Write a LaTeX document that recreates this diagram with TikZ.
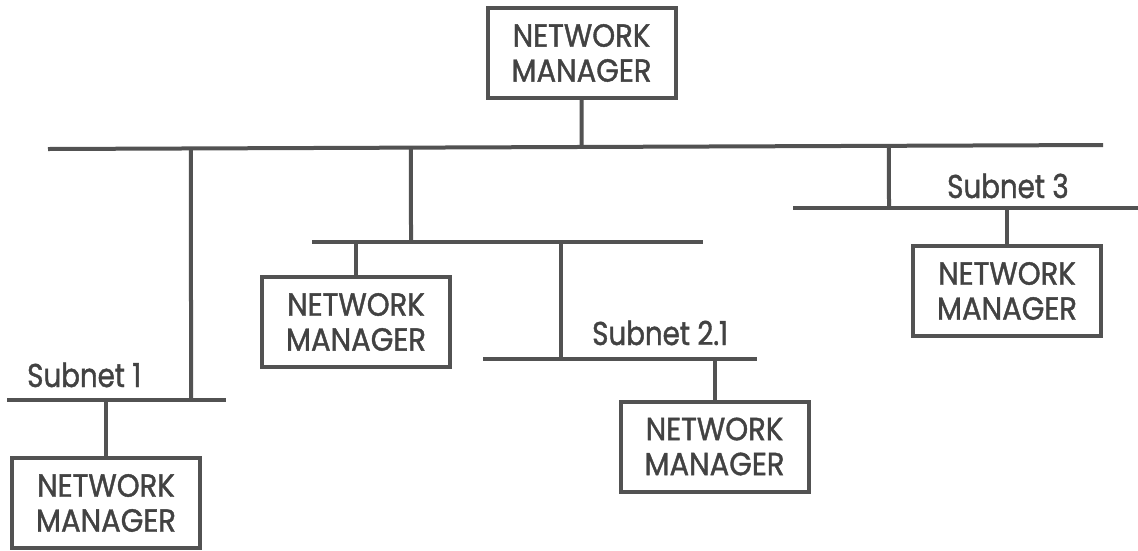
\documentclass[tikz,border=0pt]{standalone}
\usepackage{fontspec}
\usetikzlibrary{calc}
\setmainfont[FakeStretch=0.91,FakeBold=1.2]{Poppins}
\newfontfamily\labelfont[FakeStretch=0.84,FakeBold=1.2]{Poppins}
\begin{document}
\begin{tikzpicture}[x=1pt,y=-1pt,
  ink/.style={draw=black!68, line width=4pt},
  manager/.style={ink, rectangle, minimum width=188pt, minimum height=90pt,
    inner sep=0pt, align=center, text=black!74,
    font=\fontsize{32}{35}\selectfont},
  netlabel/.style={anchor=base west, inner sep=0pt, text=black!74,
    font=\labelfont\fontsize{33}{36}\selectfont}]
\useasboundingbox[fill=white] (0,0) rectangle (1138,550);

% bus ends
\coordinate (mainL) at (48,149);
\coordinate (mainR) at (1103,145);
\coordinate (s1L) at (7,400);
\coordinate (s1R) at (226,400);
\coordinate (s2L) at (312,242);
\coordinate (s2R) at (703,242);
\coordinate (s21L) at (483,359);
\coordinate (s21R) at (757,359);
\coordinate (s3L) at (793,208);
\coordinate (s3R) at (1138,208);

% managers
\node[manager] (nmTop) at (581.5,53) {NETWORK\\MANAGER};
\node[manager] (nmS1) at (106,503) {NETWORK\\MANAGER};
\node[manager] (nmS2) at (356,322) {NETWORK\\MANAGER};
\node[manager] (nmS21) at (714.5,446.5) {NETWORK\\MANAGER};
\node[manager] (nmS3) at (1007,291) {NETWORK\\MANAGER};

% subnet labels
\node[netlabel] (lab1) at (27,387) {Subnet 1};
\node[netlabel] (lab21) at (592,345) {Subnet 2.1};
\node[netlabel] (lab3) at (947,198) {Subnet 3};

% buses
\draw[ink] (mainL) -- (mainR);
\draw[ink] (s1L) -- (s1R);
\draw[ink] (s2L) -- (s2R);
\draw[ink] (s21L) -- (s21R);
\draw[ink] (s3L) -- (s3R);

% taps from the main bus to the subnets
\coordinate (t1) at (191,147);
\coordinate (t2) at (411,147);
\coordinate (t3) at (889,147);
\coordinate (t21) at (561,242);
\draw[ink] ($(mainL)!(t1)!(mainR)$) -- (t1 |- s1L);
\draw[ink] ($(mainL)!(t2)!(mainR)$) -- (t2 |- s2L);
\draw[ink] ($(mainL)!(t3)!(mainR)$) -- (t3 |- s3L);
\draw[ink] (t21) -- (t21 |- s21L);

% managers attached to their buses
\draw[ink] (nmTop.south) -- ($(mainL)!(nmTop.south)!(mainR)$);
\draw[ink] (nmS1.north) -- (nmS1.north |- s1L);
\draw[ink] (nmS2.north) -- (nmS2.north |- s2L);
\draw[ink] (nmS21.north) -- (nmS21.north |- s21L);
\draw[ink] (nmS3.north) -- (nmS3.north |- s3L);
\end{tikzpicture}
\end{document}
